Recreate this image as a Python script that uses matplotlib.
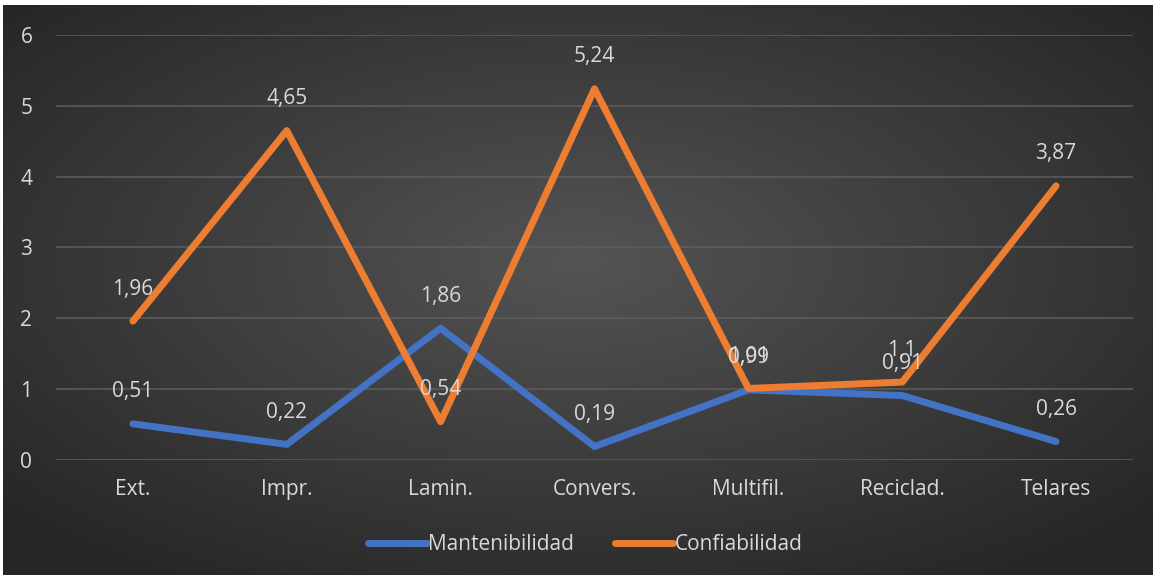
import numpy as np
import matplotlib.pyplot as plt

categorias = ['Ext.', 'Impr.', 'Lamin.', 'Convers.', 'Multifil.', 'Reciclad.', 'Telares']
mantenibilidad = [0.51, 0.22, 1.86, 0.19, 0.99, 0.91, 0.26]
confiabilidad = [1.96, 4.65, 0.54, 5.24, 1.01, 1.1, 3.87]

plt.rcParams['font.family'] = ['Open Sans', 'DejaVu Sans']
txt = '#d9d9d9'

fig = plt.figure(figsize=(11.59, 5.78), dpi=100)
fig.patch.set_facecolor('white')

# fondo con degradado radial
bg = fig.add_axes([0.0026, 0.0052, 0.9914, 0.986])
yy, xx = np.mgrid[-1:1:300j, -1:1:600j]
r = np.sqrt(xx**2 + (yy + 0.1)**2)
val = np.clip(84 - 34 * r, 38, 90) / 255.0
img = np.dstack([val, val, val])
bg.imshow(img, aspect='auto', extent=[0, 1, 0, 1])
bg.axis('off')

ax = fig.add_axes([0.0483, 0.2042, 0.9293, 0.7353])
ax.patch.set_alpha(0)
x = np.arange(len(categorias))
ax.plot(x, mantenibilidad, color='#4472c4', lw=5, solid_joinstyle='round', solid_capstyle='round',
        label='Mantenibilidad', zorder=3)
ax.plot(x, confiabilidad, color='#ed7d31', lw=5, solid_joinstyle='round', solid_capstyle='round',
        label='Confiabilidad', zorder=4)

for serie in (mantenibilidad, confiabilidad):
    for xi, v in zip(x, serie):
        s = ('%g' % v).replace('.', ',')
        ax.annotate(s, (xi, v), xytext=(0, 23), textcoords='offset points',
                    ha='center', va='center', color=txt, fontsize=15, zorder=5)

ax.set_xlim(-0.5, len(categorias) - 0.5)
ax.set_ylim(0, 6)
ax.set_yticks(range(7))
ax.set_xticks(x)
ax.set_xticklabels(categorias)
ax.tick_params(axis='both', length=0, colors=txt, labelsize=15)
ax.tick_params(axis='y', pad=17)
ax.tick_params(axis='x', pad=14)
ax.grid(axis='y', color='#5e5e5e', lw=1.1)
ax.set_axisbelow(True)
for sp in ax.spines.values():
    sp.set_visible(False)

leg = fig.legend(loc='center', bbox_to_anchor=(0.505, 0.058), ncol=2, frameon=False,
                 fontsize=15, handlelength=2.8, handletextpad=0.05, columnspacing=2.0)
for t in leg.get_texts():
    t.set_color(txt)

fig.savefig('out.png', dpi=100)
